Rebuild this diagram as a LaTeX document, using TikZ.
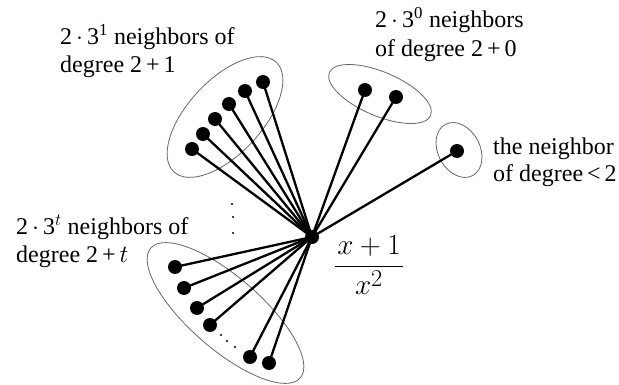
\documentclass[tikz,border=0pt]{standalone}
\usepackage{fontspec}
\setmainfont{Liberation Serif}
\usepackage{graphicx}
\begin{document}
\begin{tikzpicture}[x=1pt,y=1pt,
  dot/.style={circle,fill=black,inner sep=0pt,minimum size=14pt},
  sdot/.style={circle,fill=black,inner sep=0pt,minimum size=2.4pt},
  edge/.style={line width=2.3pt},
  grp/.style={draw=black!60,line width=0.8pt},
  lbl/.style={anchor=base west,inner sep=0pt,font=\fontsize{24}{28}\selectfont}]
\useasboundingbox (0,0) rectangle (619,-385);

% groups (ellipses)
\draw[grp,rotate around={47:(225,-117)}] (225,-117) ellipse (75 and 37);
\draw[grp,rotate around={-23:(380,-94)}] (380,-94) ellipse (55 and 22);
\draw[grp,rotate around={-62:(459,-150)}] (459,-150) ellipse (29 and 21);
\draw[grp,rotate around={-41:(225.5,-313)}] (225.5,-313) ellipse (99 and 36);

% centre vertex
\node[dot] (c) at (312,-237) {};

% degree 2+1 neighbours
\node[dot] (a1) at (192,-149) {};
\node[dot] (a2) at (203,-134) {};
\node[dot] (a3) at (215,-119) {};
\node[dot] (a4) at (229,-104) {};
\node[dot] (a5) at (245,-91) {};
\node[dot] (a6) at (263,-82) {};

% degree 2+0 neighbours
\node[dot] (b1) at (365,-90) {};
\node[dot] (b2) at (396,-97) {};

% neighbour of degree < 2
\node[dot] (r1) at (457,-151) {};

% degree 2+t neighbours
\node[dot] (t1) at (175,-267) {};
\node[dot] (t2) at (184,-288) {};
\node[dot] (t3) at (197,-308) {};
\node[dot] (t4) at (210,-325) {};
\node[dot] (t5) at (250,-357) {};
\node[dot] (t6) at (269,-363) {};

% edges
\foreach \n in {a1,a2,a3,a4,a5,a6,b1,b2,r1,t1,t2,t3,t4,t5,t6}
  \draw[edge] (c.center) -- (\n.center);

% vertical dots
\node[sdot] (v1) at (232,-204) {};
\node[sdot] (v2) at (233,-217) {};
\node[sdot] (v3) at (233,-233) {};
% dots in bottom group
\node[sdot] (h1) at (221,-335) {};
\node[sdot] (h2) at (227,-341) {};
\node[sdot] (h3) at (235,-347) {};

% labels
\node[lbl] (l1a) at (60,-45) {2\,$\cdot$\,3\textsuperscript{1} neighbors of};
\node[lbl] (l1b) at (60,-73) {degree~2\,+\,1};
\node[lbl] (l2a) at (375,-28) {2\,$\cdot$\,3\textsuperscript{0} neighbors};
\node[lbl] (l2b) at (375,-57) {of degree~2\,+\,0};
\node[lbl] (l3a) at (493,-155) {the neighbor};
\node[lbl] (l3b) at (493,-182) {of degree\,<\,2};
\node[lbl] (l4a) at (16,-235) {2\,$\cdot$\,3\textsuperscript{$t$} neighbors of};
\node[lbl] (l4b) at (16,-262) {degree~2\,+\,$t$};

% weight
\node[anchor=base,inner sep=0pt,font=\fontsize{24.88}{30}\selectfont] (w) at (369,-274)
  {\scalebox{1.17}{$\displaystyle\frac{\mkern1.5mu x+1\mkern1.5mu\rule[-0.31em]{0pt}{0.4em}}{x^2\rule{0pt}{0.9em}}$}};
\end{tikzpicture}
\end{document}
